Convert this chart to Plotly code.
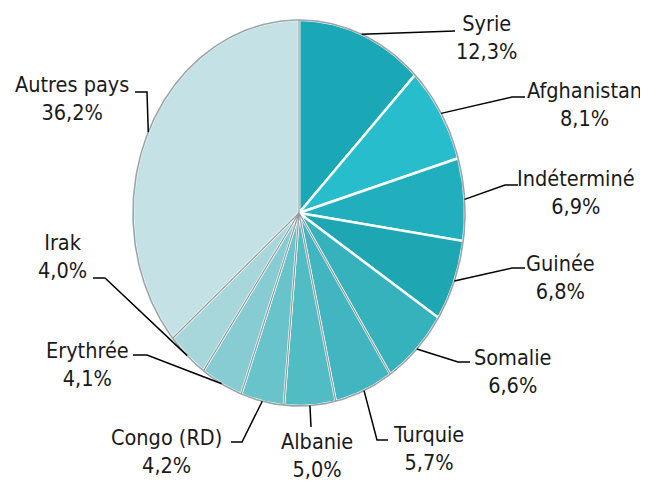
import math
import plotly.graph_objects as go

# ---- data ----
countries = ["Syrie", "Afghanistan", "Indéterminé", "Guinée", "Somalie", "Turquie",
             "Albanie", "Congo (RD)", "Erythrée", "Irak", "Autres pays"]
shares = [12.3, 8.1, 6.9, 6.8, 6.6, 5.7, 5.0, 4.2, 4.1, 4.0, 36.2]
colors = ["#1aa8b6", "#28bdcc", "#21afbd", "#1ea6b3", "#36b2bd", "#42b6c0",
          "#52bcc5", "#68c3ca", "#86ccd2", "#a8d7db", "#c4e2e5"]

# ---- layout constants (reference pixel space; page body has an 8px margin) ----
W, H = 648, 482
OFF = 8
CX, CY, RX, RY = 299, 213, 166, 193
FONT = "DejaVu Sans Condensed, DejaVu Sans, sans-serif"
FS = 21.5

# label block centres and leader elbows (positions only)
label_pos = [(486, 37), (584, 104), (576, 192), (560, 277), (512, 371), (428, 448),
             (317, 455), (166, 451), (87, 364), (62, 256), (72, 98)]
leader_pts = [[(440, 31), (455, 31)], [(512, 97), (525, 97)], [(505, 185), (518, 185)],
              [(512, 268), (525, 268)], [(458, 362), (470, 362)], [(377, 440), (388, 440)],
              [(311, 427)], [(242, 442), (231, 442)], [(147, 355), (133, 355)],
              [(105, 278), (93, 278)], [(147, 92), (135, 92)]]

total = sum(shares)


def pt(theta_deg, f=1.0):
    t = math.radians(theta_deg)
    return CX + f * RX * math.sin(t), CY - f * RY * math.cos(t)


fig = go.Figure()

# slices
cum = 0.0
bounds = []
for name, v, c in zip(countries, shares, colors):
    a0 = cum / total * 360
    a1 = (cum + v) / total * 360
    bounds.append(a0)
    n = max(3, int((a1 - a0) / 1.0) + 1)
    xs, ys = [CX], [CY]
    for i in range(n + 1):
        x, y = pt(a0 + (a1 - a0) * i / n)
        xs.append(x); ys.append(y)
    xs.append(CX); ys.append(CY)
    fig.add_trace(go.Scatter(x=xs, y=ys, mode="lines", fill="toself", fillcolor=c,
                             line=dict(color="rgba(255,255,255,0.95)", width=2.5),
                             hoverinfo="skip", showlegend=False))
    cum += v

# gray radial separators on the shaded side
for a in bounds:
    if a >= 140 or a == 0:
        x, y = pt(a)
        fig.add_trace(go.Scatter(x=[CX, x], y=[CY, y], mode="lines",
                                 line=dict(color="#8e9a9c", width=1.2),
                                 hoverinfo="skip", showlegend=False))

# rim
rx_, ry_ = [], []
for i in range(361):
    x, y = pt(i)
    rx_.append(x); ry_.append(y)
fig.add_trace(go.Scatter(x=rx_, y=ry_, mode="lines", line=dict(color="#9aa5a7", width=1.6),
                         hoverinfo="skip", showlegend=False))

# leader lines and labels
cum = 0.0
for i, (name, v) in enumerate(zip(countries, shares)):
    mid = (cum + v / 2) / total * 360
    cum += v
    sx, sy = pt(mid)
    xs = [sx] + [p[0] for p in leader_pts[i]]
    ys = [sy] + [p[1] for p in leader_pts[i]]
    fig.add_trace(go.Scatter(x=xs, y=ys, mode="lines", line=dict(color="black", width=1.5),
                             hoverinfo="skip", showlegend=False))
    pct = f"{v:.1f}".replace(".", ",") + "%"
    lx, ly = label_pos[i]
    fig.add_annotation(x=lx, y=ly, xref="x", yref="y", text=f"{name}<br>{pct}",
                       showarrow=False, xanchor="center", yanchor="middle", align="center",
                       font=dict(family=FONT, size=FS, color="#1a1a1a"))

fig.update_layout(
    width=W - OFF, height=H - OFF, margin=dict(l=0, r=0, t=0, b=0),
    paper_bgcolor="white", plot_bgcolor="white",
    xaxis=dict(range=[OFF, W], visible=False, fixedrange=True),
    yaxis=dict(range=[H, OFF], visible=False, fixedrange=True),
)

fig.write_html("out.html")
